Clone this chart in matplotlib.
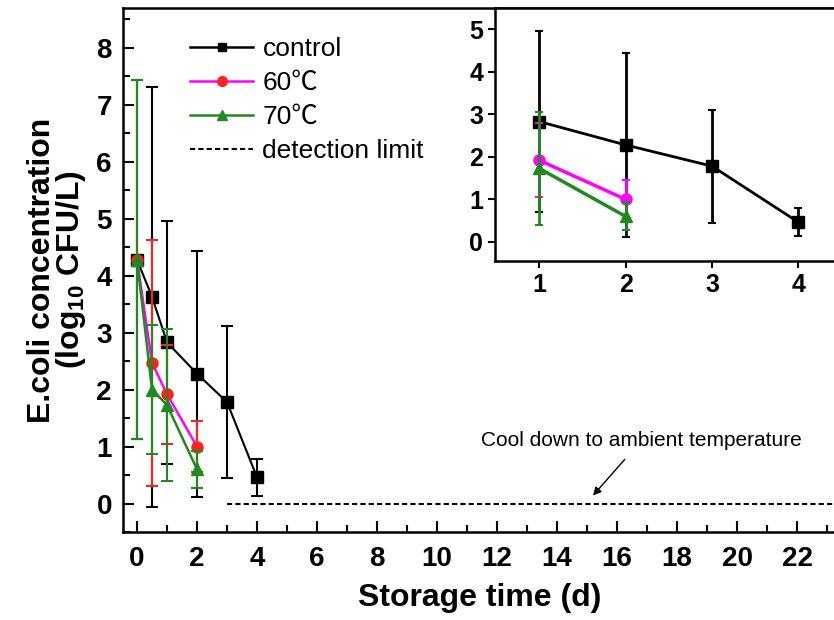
import matplotlib
matplotlib.use("Agg")
import matplotlib.pyplot as plt
from matplotlib.lines import Line2D
from matplotlib.ticker import MultipleLocator

plt.rcParams['font.family'] = ['Liberation Sans', 'Noto Sans CJK SC', 'DejaVu Sans']
plt.rcParams['mathtext.default'] = 'regular'

# storage time (d)
days_control = [0, 0.5, 1, 2, 3, 4]
control = [4.28, 3.63, 2.83, 2.28, 1.78, 0.46]
control_err = [3.15, 3.69, 2.13, 2.16, 1.33, 0.33]

days_heat = [0, 0.5, 1, 2]
t60 = [4.28, 2.47, 1.92, 1.00]
t60_err = [3.15, 2.16, 0.87, 0.45]
t70 = [4.28, 2.00, 1.73, 0.60]
t70_err = [3.15, 1.13, 1.33, 0.33]

# inset: days 1-4
inset_days_control = [1, 2, 3, 4]
inset_control = control[2:]
inset_control_err = control_err[2:]
inset_days_heat = [1, 2]
inset_t60 = t60[2:]
inset_t60_err = t60_err[2:]
inset_t70 = t70[2:]
inset_t70_err = t70_err[2:]

detect_x = [3, 23.5]
detect_y = [0, 0]

GREEN = '#1f8a1f'
MAGENTA = '#ff00ff'
RED = '#ff2020'
DASH = (0, (2.5, 1.5))

fig = plt.figure(figsize=(8.34, 6.2), dpi=100)
ax = fig.add_axes([123 / 834, 88 / 620, 713 / 834, 524 / 620])

ax.errorbar(days_control, control, yerr=control_err, color='black', lw=1.5,
            marker='s', ms=8, mfc='black', mec='black', ecolor='black',
            elinewidth=1.5, capsize=4, capthick=1.5, zorder=3)
ax.errorbar(days_heat, t60, yerr=t60_err, color=MAGENTA, lw=1.8,
            marker='o', ms=8, mfc=RED, mec=RED, ecolor=RED,
            elinewidth=1.5, capsize=4, capthick=1.5, zorder=4)
ax.errorbar(days_heat, t70, yerr=t70_err, color=GREEN, lw=1.8,
            marker='^', ms=8, mfc=GREEN, mec=GREEN, ecolor=GREEN,
            elinewidth=1.5, capsize=4, capthick=1.5, zorder=5)
ax.plot(detect_x, detect_y, color='black', lw=1.5, ls=DASH)

ax.annotate('Cool down to ambient temperature', xy=(15.2, 0.14), xytext=(16.8, 1.1),
            ha='center', va='center', fontsize=15,
            arrowprops=dict(arrowstyle='-|>', color='black', lw=1, mutation_scale=12,
                            shrinkA=6, shrinkB=0))

ax.set_xlim(-0.467, 23.3)
ax.set_ylim(-0.5, 8.7)
ax.xaxis.set_major_locator(MultipleLocator(2))
ax.xaxis.set_minor_locator(MultipleLocator(1))
ax.yaxis.set_major_locator(MultipleLocator(1))
ax.yaxis.set_minor_locator(MultipleLocator(0.5))
ax.tick_params(which='both', direction='in', width=1.5, labelsize=20)
ax.tick_params(which='major', length=8)
ax.tick_params(which='minor', length=5)
ax.tick_params(axis='x', pad=10)
ax.tick_params(axis='y', pad=8)
for lab in ax.get_xticklabels() + ax.get_yticklabels():
    lab.set_fontweight('bold')
for s in ax.spines.values():
    s.set_linewidth(1.8)

ax.set_xlabel('Storage time (d)', fontsize=23, fontweight='bold', labelpad=8)
ax.set_ylabel('E.coli concentration\n(log$_{10}$ CFU/L)', fontsize=23,
              fontweight='bold', labelpad=6, linespacing=0.9)

handles = [
    Line2D([], [], color='black', lw=1.8, marker='s', ms=6, mfc='black', mec='black'),
    Line2D([], [], color=MAGENTA, lw=1.8, marker='o', ms=7, mfc=RED, mec=RED),
    Line2D([], [], color=GREEN, lw=1.8, marker='^', ms=7, mfc=GREEN, mec=GREEN),
    Line2D([], [], color='black', lw=1.5, ls=DASH),
]
labels = ['control', '60℃', '70℃', 'detection limit']
ax.legend(handles, labels, loc='upper left', bbox_to_anchor=(0.079, 0.965), frameon=False,
          fontsize=19, handlelength=2.4, handletextpad=0.35,
          labelspacing=0.38, borderaxespad=0)

# inset
ins = fig.add_axes([495 / 834, 359 / 620, 345 / 834, 253 / 620])
ins.errorbar(inset_days_control, inset_control, yerr=inset_control_err, color='black', lw=2,
             marker='s', ms=8, mfc='black', mec='black', ecolor='black',
             elinewidth=2, capsize=3, capthick=1.5, zorder=3)
ins.errorbar(inset_days_heat, inset_t60, yerr=inset_t60_err, color=MAGENTA, lw=2.5,
             marker='o', ms=8, mfc=MAGENTA, mec=MAGENTA, ecolor=MAGENTA,
             elinewidth=2, capsize=3, capthick=1.5, zorder=4)
ins.errorbar(inset_days_heat, inset_t70, yerr=inset_t70_err, color=GREEN, lw=2.5,
             marker='^', ms=8, mfc=GREEN, mec=GREEN, ecolor=GREEN,
             elinewidth=2, capsize=3, capthick=1.5, zorder=5)
ins.set_xlim(0.49, 4.48)
ins.set_ylim(-0.45, 5.5)
ins.xaxis.set_major_locator(MultipleLocator(1))
ins.yaxis.set_major_locator(MultipleLocator(1))
ins.tick_params(direction='out', width=1.5, length=5, labelsize=18)
for lab in ins.get_xticklabels() + ins.get_yticklabels():
    lab.set_fontweight('bold')
for s in ins.spines.values():
    s.set_linewidth(1.8)

fig.savefig('out.png', dpi=100)
